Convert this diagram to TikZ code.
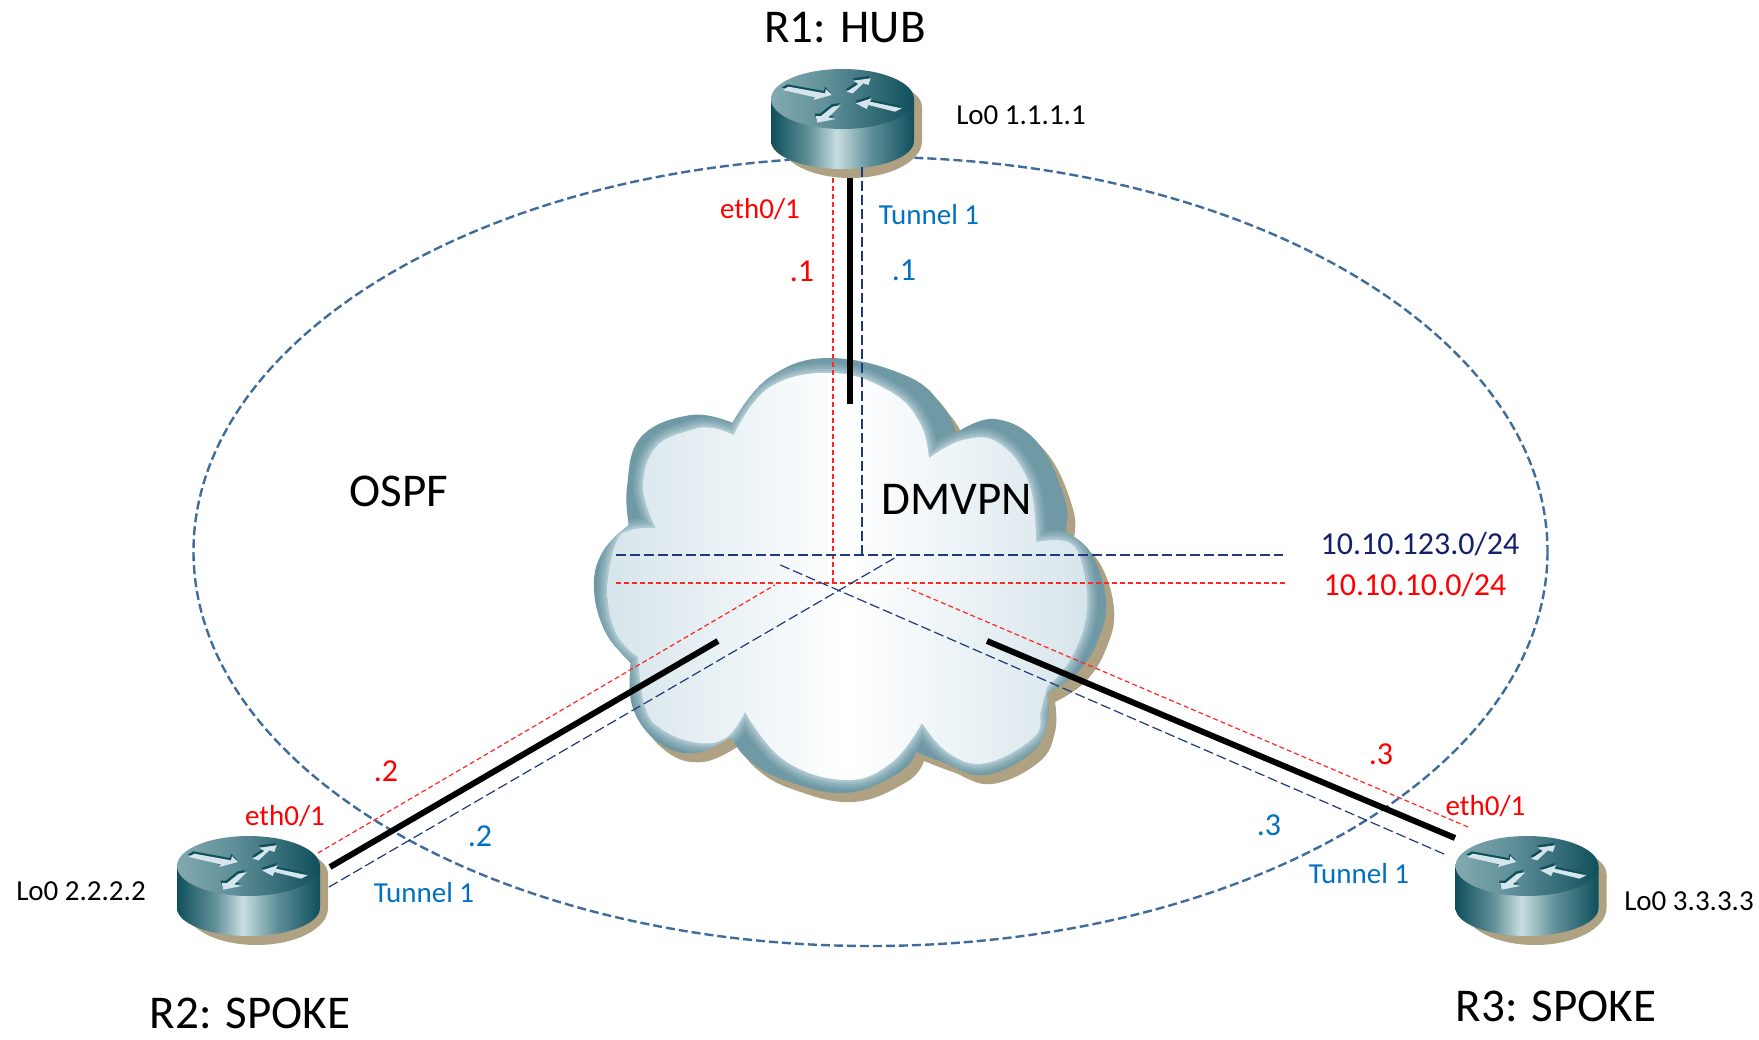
\documentclass[tikz,border=0pt]{standalone}
\usepackage{fontspec}
\setmainfont{Carlito}
\definecolor{rtdark}{HTML}{0F4F5C}
\definecolor{rtmid}{HTML}{5F8F98}
\definecolor{rtlight}{HTML}{C8DDE0}
\definecolor{rttop}{HTML}{83A9B0}
\definecolor{tanshadow}{HTML}{AFA282}
\definecolor{cloudrim}{HTML}{6E99A5}
\definecolor{cloudedge}{HTML}{D6E5EB}
\definecolor{ospfblue}{HTML}{3F6D9B}
\definecolor{netnavy}{HTML}{1F3A7A}
\definecolor{labelblue}{HTML}{0070C0}
\definecolor{navytext}{HTML}{14206A}
\pgfdeclarehorizontalshading{routerside}{100bp}{color(0bp)=(rtdark); color(25bp)=(rtdark); color(38bp)=(rtmid); color(48bp)=(rtlight); color(60bp)=(rtmid); color(75bp)=(rtdark); color(100bp)=(rtdark)}
\pgfdeclarehorizontalshading{routertop}{100bp}{color(0bp)=(rttop); color(25bp)=(rttop); color(45bp)=(rtmid); color(75bp)=(rtdark); color(100bp)=(rtdark)}
\newcommand{\cloudouter}{plot[smooth,tension=.7] coordinates {(732.5,423)(770,377)(830,358)(909,377)(945,410)(956,433)}
 -- plot[smooth,tension=.7] coordinates {(956,433)(995,419)(1038,443)(1065,500)(1065,532)}
 -- plot[smooth,tension=.7] coordinates {(1065,532)(1091,553)(1106,600)(1098,640)(1077,673)(1047,693)}
 -- plot[smooth,tension=.7] coordinates {(1047,693)(1047,723)(1031,753)(984,775)(945,763)(916,752)}
 -- plot[smooth,tension=.7] coordinates {(916,752)(898.6,773)(845,793)(784,780)(748.6,760)(730.7,737)}
 -- plot[smooth,tension=.7] coordinates {(730.7,737)(695,753)(659,743)(632.5,707)(631,662)}
 -- plot[smooth,tension=.7] coordinates {(631,662)(606,633)(594,590)(602,553)(629,525)}
 -- plot[smooth,tension=.7] coordinates {(629,525)(627,487)(641,437)(691,415)(732.5,423)} -- cycle}
\newcommand{\cloudinner}{plot[smooth,tension=.7] coordinates {(733.6,435)(770,387)(834,373)(891,392)(920,423)(929,458)}
 -- plot[smooth,tension=.7] coordinates {(929,458)(963,440)(998.6,443)(1029,483)(1036,542)}
 -- plot[smooth,tension=.7] coordinates {(1036,542)(1070,543)(1084,573)(1086,617)(1070,660)(1047,687)}
 -- plot[smooth,tension=.7] coordinates {(1047,687)(1041,710)(1034,737)(986,763)(948.6,753)(922,723)}
 -- plot[smooth,tension=.7] coordinates {(922,723)(891,763)(845,780)(784,760)(745,712)}
 -- plot[smooth,tension=.7] coordinates {(745,712)(727,737)(698.6,743)(663,730)(645,707)(638,657)}
 -- plot[smooth,tension=.7] coordinates {(638,657)(616,633)(607.5,590)(616,543)(631,530)(655.7,528)}
 -- plot[smooth,tension=.7] coordinates {(655.7,528)(643,487)(656,447)(691,430)(713,428)(733.6,435)} -- cycle}
\tikzset{
 x=1pt,y=-1pt,
 txt/.style={inner sep=0pt,font=\fontsize{#1}{#1}\selectfont},
 title/.style={txt=47,text=black},
 loop/.style={txt=29,text=black},
 red label/.style={txt=29,text=red},
 blue label/.style={txt=29,text=labelblue},
 red addr/.style={txt=32,text=red},
 blue addr/.style={txt=32,text=labelblue},
 phys/.style={line width=6pt,black},
 rednet/.style={draw=red!85!white,line width=1.2pt,dash pattern=on 5pt off 3pt},
 bluenet/.style={draw=netnavy,line width=1.2pt,dash pattern=on 10pt off 4pt},
 pics/ciscorouter/.style={code={
  \fill[tanshadow] (-63.5,8) -- (79.5,8) -- (79.5,42) arc[start angle=0,end angle=180,x radius=71.5,y radius=37] -- cycle;
  \fill[tanshadow] (8,8) ellipse[x radius=71.5,y radius=30];
  \shade[shading=routerside] (-71.5,0) -- (-71.5,42) arc[start angle=180,end angle=0,x radius=71.5,y radius=28] -- (71.5,0) -- cycle;
  \shade[shading=routertop] (0,0) ellipse[x radius=71.5,y radius=30];
  \begin{scope}[scale=1/3,shift={(-367.5,-177)}]
   \foreach \dx/\dy/\col in {-3/-7/rtdark,0/0/cloudedge}{
    \begin{scope}[shift={(\dx,\dy)}]
    \fill[\col] (188,150)--(205,140)--(315,160)--(318,147)--(335,165)--(280,180)--(285,172)--cycle;
    \fill[\col] (380,155)--(415,132)--(400,122)--(452,115)--(445,135)--(430,130)--(398,160)--cycle;
    \fill[\col] (408,190)--(455,175)--(450,185)--(545,205)--(525,215)--(445,195)--(440,207)--cycle;
    \fill[\col] (287,228)--(303,228)--(338,200)--(362,196)--(325,232)--(347,237)--(292,248)--cycle;
    \end{scope}}
  \end{scope}
 }}
}
\begin{document}
\begin{tikzpicture}
\useasboundingbox (0,0) rectangle (1759,1039);
% OSPF area
\draw[ospfblue,line width=2.4pt,dash pattern=on 9pt off 4pt] (870.5,551.5) ellipse[x radius=677,y radius=394.5];
% cloud
\begin{scope}[shift={(8,9)}]
\fill[tanshadow] \cloudouter;
\end{scope}
\fill[cloudrim] \cloudouter;
\begin{scope}
\clip \cloudouter;
\foreach \w/\m in {20/90,16/80,12/70,8/55,4/40}{
 \draw[line width=\w pt,line join=round,draw=cloudrim!\m!cloudedge] \cloudinner;
}
\end{scope}
\shade[left color=cloudedge,right color=cloudedge,middle color=white] \cloudinner;
% routers
\coordinate (R1) at (842.5,99);
\coordinate (R2) at (248.5,866);
\coordinate (R3) at (1527,866);
\pic at (R1) {ciscorouter};
\pic at (R2) {ciscorouter};
\pic at (R3) {ciscorouter};
% connector ends
\coordinate (p1a) at (849.5,178); \coordinate (p1b) at (849.5,404);
\coordinate (p2a) at (330,867); \coordinate (p2b) at (718,641);
\coordinate (p3a) at (1455,838); \coordinate (p3b) at (987,641);
\coordinate (r1a) at (833,178); \coordinate (r1b) at (833,583);
\coordinate (t1a) at (862,167); \coordinate (t1b) at (862,555);
\coordinate (tl) at (616,555); \coordinate (tr) at (1283,555);
\coordinate (rl) at (616,583); \coordinate (rr) at (1285,583);
\coordinate (t2a) at (329,887); \coordinate (t2b) at (898,556);
\coordinate (t3a) at (1444,854); \coordinate (t3b) at (778,564);
\coordinate (r2a) at (318,853); \coordinate (r2b) at (775,585);
\coordinate (r3a) at (1468,827); \coordinate (r3b) at (907.5,588);
% networks
\draw[rednet] (r1a) -- (r1b);
\draw[bluenet] (t1a) -- (t1b);
\draw[bluenet] (tl) -- (tr);
\draw[rednet] (rl) -- (rr);
\draw[bluenet] (t2a) -- (t2b);
\draw[bluenet] (t3a) -- (t3b);
\draw[rednet] (r2a) -- (r2b);
\draw[rednet] (r3a) -- (r3b);
% physical links
\draw[phys] (p1a) -- (p1b);
\draw[phys] (p2a) -- (p2b);
\draw[phys] (p3a) -- (p3b);
% labels
\node[title] (t1) at (845,28) {R1: HUB};
\node[title] (t2) at (250,1013) {R2: SPOKE};
\node[title] (t3) at (1556,1006) {R3: SPOKE};
\node[title] (ospf) at (399,491) {OSPF};
\node[title] (dm) at (957,499) {DMVPN};
\node[loop] (l1) at (1021,115.5) {Lo0 1.1.1.1};
\node[loop] (l2) at (81,891) {Lo0 2.2.2.2};
\node[loop] (l3) at (1689,901) {Lo0 3.3.3.3};
\node[red label] (e1) at (760,209) {eth0/1};
\node[red label] (e2) at (285,816) {eth0/1};
\node[red label] (e3) at (1485.5,806) {eth0/1};
\node[blue label] (u1) at (929,215) {Tunnel 1};
\node[blue label] (u2) at (424,893) {Tunnel 1};
\node[blue label] (u3) at (1359,874) {Tunnel 1};
\node[red addr] (a1) at (802,271.5) {.1};
\node[blue addr] (b1) at (904,270.5) {.1};
\node[red addr] (a2) at (386,771) {.2};
\node[blue addr] (b2) at (480,836) {.2};
\node[red addr] (a3) at (1381,754) {.3};
\node[blue addr] (b3) at (1269,825) {.3};
\node[txt=32,text=navytext] (n1) at (1420,544) {10.10.123.0/24};
\node[red addr] (n2) at (1415,585) {10.10.10.0/24};
\end{tikzpicture}
\end{document}
